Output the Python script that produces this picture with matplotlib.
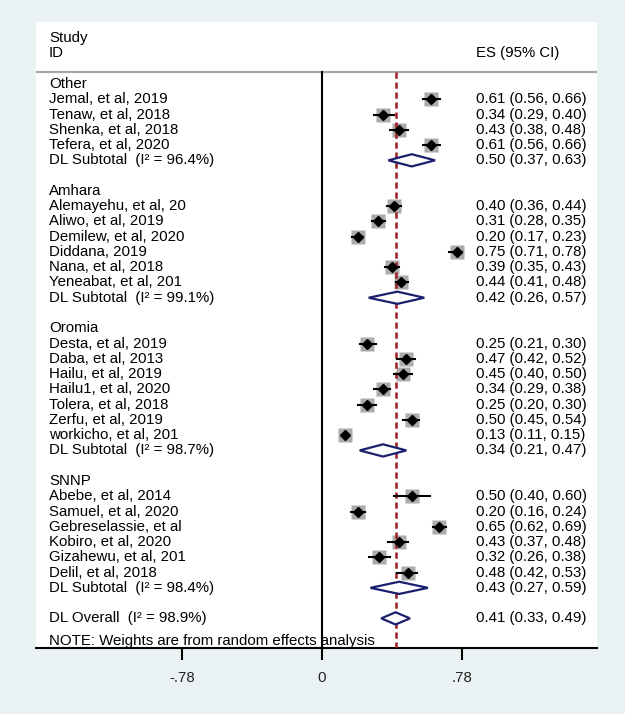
import numpy as np
import matplotlib
matplotlib.use('Agg')
import matplotlib.pyplot as plt
from matplotlib.patches import Polygon

plt.rcParams['font.family'] = ['Liberation Sans', 'DejaVu Sans']

# study data per region
groups = ['Other', 'Amhara', 'Oromia', 'SNNP']
studies = [
    ['Jemal, et al, 2019', 'Tenaw, et al, 2018', 'Shenka, et al, 2018', 'Tefera, et al, 2020'],
    ['Alemayehu, et al, 20', 'Aliwo, et al, 2019', 'Demilew, et al, 2020', 'Diddana, 2019',
     'Nana, et al, 2018', 'Yeneabat, et al, 201'],
    ['Desta, et al, 2019', 'Daba, et al, 2013', 'Hailu, et al, 2019', 'Hailu1, et al, 2020',
     'Tolera, et al, 2018', 'Zerfu, et al, 2019', 'workicho, et al, 201'],
    ['Abebe, et al, 2014', 'Samuel, et al, 2020', 'Gebreselassie, et al', 'Kobiro, et al, 2020',
     'Gizahewu, et al, 201', 'Delil, et al, 2018'],
]
es = [
    [0.61, 0.34, 0.43, 0.61],
    [0.40, 0.31, 0.20, 0.75, 0.39, 0.44],
    [0.25, 0.47, 0.45, 0.34, 0.25, 0.50, 0.13],
    [0.50, 0.20, 0.65, 0.43, 0.32, 0.48],
]
lo = [
    [0.56, 0.29, 0.38, 0.56],
    [0.36, 0.28, 0.17, 0.71, 0.35, 0.41],
    [0.21, 0.42, 0.40, 0.29, 0.20, 0.45, 0.11],
    [0.40, 0.16, 0.62, 0.37, 0.26, 0.42],
]
hi = [
    [0.66, 0.40, 0.48, 0.66],
    [0.44, 0.35, 0.23, 0.78, 0.43, 0.48],
    [0.30, 0.52, 0.50, 0.38, 0.30, 0.54, 0.15],
    [0.60, 0.24, 0.69, 0.48, 0.38, 0.53],
]
sub_i2 = [96.4, 99.1, 98.7, 98.4]
sub_es = [0.50, 0.42, 0.34, 0.43]
sub_lo = [0.37, 0.26, 0.21, 0.27]
sub_hi = [0.63, 0.57, 0.47, 0.59]
overall_i2 = 98.9
overall = (0.41, 0.33, 0.49)
ticks = [-0.78, 0, 0.78]
tick_labels = ['-.78', '0', '.78']

bg = '#EAF2F3'
navy = '#1A1F6E'
red = '#9E1C20'
fs = 10.8

fig = plt.figure(figsize=(6.25, 7.14), dpi=100, facecolor=bg)
ax = fig.add_axes([36 / 625, 66 / 714, 561 / 625, 626 / 714])
ax.set_facecolor('white')

xmin, xmax = -1.593, 1.532
ymin, ymax = 36.94, -4.06
ax.set_xlim(xmin, xmax)
ax.set_ylim(ymin, ymax)
xl = -1.52   # left text column
xr = 0.858   # ES column


def diamond(y, e, l, h):
    d = 0.4
    ax.add_patch(Polygon([[l, y], [e, y - d], [h, y], [e, y + d]], closed=True,
                         facecolor='white', edgecolor=navy, lw=1.6, zorder=4))


# header
ax.text(xl, -3, 'Study', fontsize=fs, va='center', ha='left')
ax.text(xl, -2, 'ID', fontsize=fs, va='center', ha='left')
ax.text(xr, -2, 'ES (95% CI)', fontsize=fs, va='center', ha='left')
ax.plot([xmin, xmax], [-0.8, -0.8], color='#A8A8A8', lw=1.6, zorder=2)

row = 0
for g in range(len(groups)):
    ax.text(xl, row, groups[g], fontsize=fs, va='center', ha='left')
    row += 1
    for name, e, l, h in zip(studies[g], es[g], lo[g], hi[g]):
        ax.plot(e, row, 's', ms=9.5, color='#ABABAB', mec='none', zorder=3)
        ax.plot([l, h], [row, row], color='black', lw=1.5, zorder=4)
        ax.plot(e, row, 'D', ms=5, color='black', zorder=5)
        ax.text(xl, row, name, fontsize=fs, va='center', ha='left')
        ax.text(xr, row, f'{e:.2f} ({l:.2f}, {h:.2f})', fontsize=fs, va='center', ha='left')
        row += 1
    diamond(row, sub_es[g], sub_lo[g], sub_hi[g])
    ax.text(xl, row, f'DL Subtotal  (I² = {sub_i2[g]}%)', fontsize=fs, va='center', ha='left')
    ax.text(xr, row, f'{sub_es[g]:.2f} ({sub_lo[g]:.2f}, {sub_hi[g]:.2f})',
            fontsize=fs, va='center', ha='left')
    row += 2

diamond(row, *overall)
ax.text(xl, row, f'DL Overall  (I² = {overall_i2}%)', fontsize=fs, va='center', ha='left')
ax.text(xr, row, f'{overall[0]:.2f} ({overall[1]:.2f}, {overall[2]:.2f})',
        fontsize=fs, va='center', ha='left')
ax.text(xl, row + 1.5, 'NOTE: Weights are from random effects analysis',
        fontsize=fs, va='center', ha='left')

# null line and overall effect line
ax.plot([0, 0], [-0.8, ymin], color='black', lw=1.5, zorder=2)
ax.plot([overall[0], overall[0]], [-0.8, ymin], color=red, lw=1.8,
        linestyle=(0, (2.5, 1.5)), zorder=3)

for s in ['top', 'left', 'right']:
    ax.spines[s].set_visible(False)
ax.spines['bottom'].set_linewidth(1.5)
ax.set_yticks([])
ax.set_xticks(ticks)
ax.set_xticklabels(tick_labels, fontsize=fs, color='#222222')
ax.tick_params(axis='x', length=8.5, width=1.5, pad=8)

fig.savefig('out.png', dpi=100, facecolor=bg)
